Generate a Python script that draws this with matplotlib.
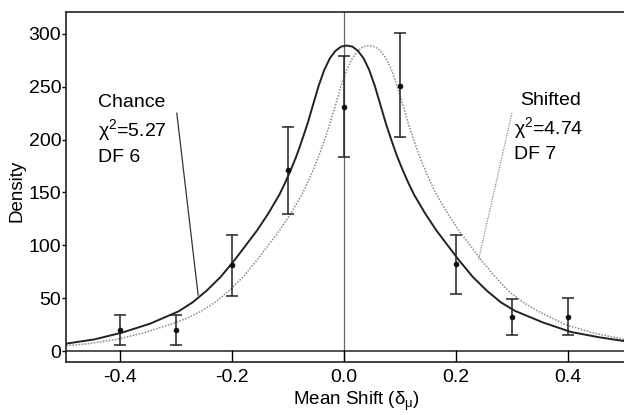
import matplotlib
matplotlib.use("Agg")
import matplotlib.pyplot as plt

plt.rcParams["font.family"] = ["Liberation Sans", "DejaVu Sans"]
plt.rcParams["mathtext.default"] = "regular"

# binned data with error bars
bin_x = [-0.4, -0.3, -0.2, -0.1, 0.0, 0.1, 0.2, 0.3, 0.4]
bin_y = [20, 20, 81, 171, 231, 251, 82, 32, 32]
bin_lo = [6, 6, 52, 130, 184, 202, 54, 15, 15]
bin_hi = [34, 34, 110, 212, 279, 301, 110, 49, 50]

# "Chance" fit (solid)
chance_x = [-0.495, -0.445, -0.395, -0.345, -0.295, -0.27, -0.245, -0.22, -0.195,
            -0.175, -0.155, -0.135, -0.115, -0.105, -0.095, -0.085, -0.075, -0.065,
            -0.055, -0.045, -0.035, -0.025, -0.015, -0.005, 0.005, 0.015, 0.025,
            0.035, 0.045, 0.055, 0.065, 0.075, 0.085, 0.095, 0.105, 0.115, 0.125,
            0.145, 0.165, 0.185, 0.205, 0.23, 0.255, 0.28, 0.305, 0.355, 0.405,
            0.455, 0.505]
chance_y = [7, 11, 17.5, 26, 37.5, 46, 57, 70, 86, 100, 114, 130, 148, 159, 171,
            184, 199, 215, 233, 251, 266, 277, 284, 288, 289, 288, 284, 277, 266,
            251, 233, 215, 199, 184, 171, 159, 148, 130, 114, 100, 86, 70, 57, 46,
            38, 27, 18, 13, 9]

# "Shifted" fit (dotted)
shift_x = [-0.495, -0.455, -0.405, -0.355, -0.305, -0.28, -0.255, -0.23, -0.205,
           -0.18, -0.155, -0.135, -0.115, -0.095, -0.075, -0.065, -0.055, -0.045,
           -0.035, -0.025, -0.015, -0.005, 0.005, 0.015, 0.025, 0.035, 0.045,
           0.055, 0.065, 0.075, 0.085, 0.095, 0.105, 0.115, 0.125, 0.135, 0.145,
           0.155, 0.165, 0.185, 0.205, 0.225, 0.245, 0.27, 0.295, 0.32, 0.345,
           0.395, 0.445, 0.5]
shift_y = [5, 7, 11, 17.5, 26, 31, 37.5, 46, 57, 70, 86, 100, 114, 130, 148, 159,
           171, 184, 199, 215, 233, 251, 266, 277, 284, 288, 289, 288, 284, 277,
           266, 251, 233, 215, 199, 184, 171, 159, 148, 130, 114, 100, 86, 70, 56,
           46, 38, 25, 17, 11]

x_ticks = [-0.4, -0.2, 0.0, 0.2, 0.4]
x_labels = ["-0.4", "-0.2", "0.0", "0.2", "0.4"]
y_ticks = [0, 50, 100, 150, 200, 250, 300]

fig = plt.figure(figsize=(6.24, 4.15), dpi=100)
ax = fig.add_axes([0.1058, 0.1277, 0.8942, 0.8433])
ax.set_xlim(-0.4956, 0.4995)
ax.set_ylim(-10.4, 320.7)

ax.axhline(0, color="#333333", lw=1.2, zorder=1)
ax.axvline(0, color="#666666", lw=0.9, zorder=1)

ax.plot(chance_x, chance_y, color="#222222", lw=1.4, zorder=3)
ax.plot(shift_x, shift_y, color="#8a8a8a", lw=1.1, ls=(0, (1, 1)), zorder=2)

err = [[y - lo for y, lo in zip(bin_y, bin_lo)], [hi - y for y, hi in zip(bin_y, bin_hi)]]
ax.errorbar(bin_x, bin_y, yerr=err, fmt="o", ms=3, color="#111111",
            ecolor="#222222", elinewidth=1.1, capsize=4, capthick=1.1, zorder=4)

# labels for the two fits
ax.plot([-0.298, -0.26], [225, 53], color="#333333", lw=0.9)
ax.text(-0.438, 235, "Chance", fontsize=14, va="center", ha="left")
ax.text(-0.438, 209, "χ$^2$=5.27", fontsize=14, va="center", ha="left")
ax.text(-0.438, 183, "DF 6", fontsize=14, va="center", ha="left")

ax.plot([0.2995, 0.240], [225, 86], color="#8a8a8a", lw=0.9, ls=(0, (1, 1)))
ax.text(0.314, 237, "Shifted", fontsize=14, va="center", ha="left")
ax.text(0.303, 211, "χ$^2$=4.74", fontsize=14, va="center", ha="left")
ax.text(0.304, 186, "DF 7", fontsize=14, va="center", ha="left")

ax.set_xticks(x_ticks)
ax.set_xticklabels(x_labels)
ax.set_yticks(y_ticks)
ax.tick_params(axis="x", direction="in", length=9, width=1, labelsize=14, pad=5)
ax.tick_params(axis="y", direction="out", length=3, width=1, labelsize=14, pad=0.5)

ax.spines["right"].set_visible(False)
for s in ("left", "top", "bottom"):
    ax.spines[s].set_linewidth(1.2)
    ax.spines[s].set_color("#222222")

ax.set_ylabel("Density", fontsize=13.5, labelpad=2)
ax.yaxis.set_label_coords(-0.072, 0.49)
ax.set_xlabel(r"Mean Shift ($\delta_\mu$)", fontsize=13.5, labelpad=2)
ax.xaxis.set_label_coords(0.52, -0.08)

fig.savefig("out.png", dpi=100)
